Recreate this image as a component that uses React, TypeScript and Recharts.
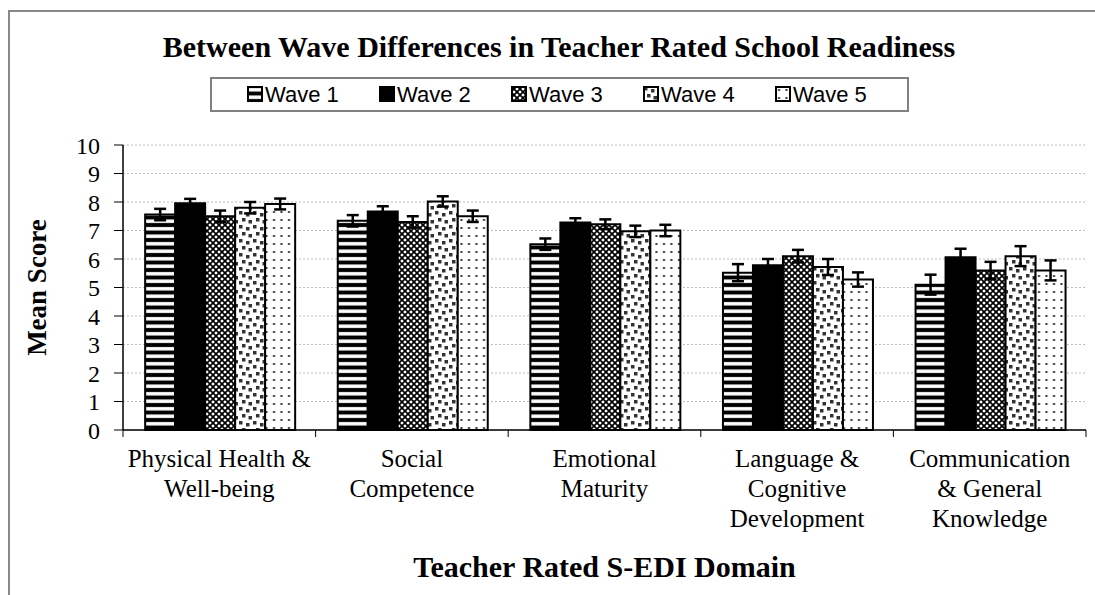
import { BarChart, Bar, XAxis, YAxis, CartesianGrid, ErrorBar, Legend, Label } from "recharts";

const domains = [
  "Physical Health &\nWell-being",
  "Social\nCompetence",
  "Emotional\nMaturity",
  "Language &\nCognitive\nDevelopment",
  "Communication\n& General\nKnowledge",
];

const wave1 = [7.56, 7.34, 6.52, 5.52, 5.1];
const wave1Err = [0.2, 0.2, 0.2, 0.3, 0.35];
const wave2 = [7.96, 7.67, 7.28, 5.78, 6.06];
const wave2Err = [0.15, 0.18, 0.15, 0.22, 0.3];
const wave3 = [7.5, 7.3, 7.22, 6.1, 5.6];
const wave3Err = [0.2, 0.2, 0.17, 0.22, 0.3];
const wave4 = [7.8, 8.02, 6.97, 5.72, 6.1];
const wave4Err = [0.2, 0.18, 0.2, 0.28, 0.35];
const wave5 = [7.93, 7.5, 7.0, 5.28, 5.6];
const wave5Err = [0.19, 0.2, 0.2, 0.25, 0.35];

const yTicks = [0, 1, 2, 3, 4, 5, 6, 7, 8, 9, 10];

const data = domains.map((d, i) => ({
  domain: d,
  w1: wave1[i], w1e: wave1Err[i],
  w2: wave2[i], w2e: wave2Err[i],
  w3: wave3[i], w3e: wave3Err[i],
  w4: wave4[i], w4e: wave4Err[i],
  w5: wave5[i], w5e: wave5Err[i],
}));

const series = [
  { key: "w1", err: "w1e", name: "Wave 1", fill: "url(#pWave1)" },
  { key: "w2", err: "w2e", name: "Wave 2", fill: "#000" },
  { key: "w3", err: "w3e", name: "Wave 3", fill: "url(#pWave3)" },
  { key: "w4", err: "w4e", name: "Wave 4", fill: "url(#pWave4)" },
  { key: "w5", err: "w5e", name: "Wave 5", fill: "url(#pWave5)" },
];

const serif = "'Liberation Serif', 'Times New Roman', serif";
const sans = "'Liberation Sans', Arial, sans-serif";

// category labels, plus the boundary tick marks Excel draws between groups
const CategoryTick = (props: any) => {
  const { x, y, payload } = props;
  const lines = String(payload.value).split("\n");
  const half = payload.offset ?? 96;
  return (
    <g>
      <line x1={x - half} y1={y} x2={x - half} y2={y + 7} stroke="#000" />
      {payload.index === domains.length - 1 && (
        <line x1={x + half} y1={y} x2={x + half} y2={y + 7} stroke="#000" />
      )}
      <text x={x} y={y} textAnchor="middle" fontFamily={serif} fontSize={25} fill="#000">
        {lines.map((l, i) => (
          <tspan key={i} x={x} dy={i === 0 ? 37 : 30}>{l}</tspan>
        ))}
      </text>
    </g>
  );
};

const renderLegend = () => (
  <div
    style={{
      border: "2px solid #808080",
      boxSizing: "border-box",
      height: 35,
      display: "flex",
      alignItems: "center",
      paddingLeft: 35,
      fontFamily: sans,
      fontSize: 22,
      color: "#000",
    }}
  >
    {series.map((s) => (
      <div key={s.key} style={{ display: "flex", alignItems: "center", width: 133 }}>
        <svg width={17} height={17}>
          <rect x={1} y={1} width={14} height={14} fill={s.fill} stroke="#000" strokeWidth={2} />
        </svg>
        <span style={{ marginLeft: 1 }}>{s.name}</span>
      </div>
    ))}
  </div>
);

export default function App() {
  return (
    <div style={{ position: "absolute", left: 0, top: 0, width: 1095, height: 595, background: "#fff" }}>
      <div style={{ position: "absolute", left: 8, top: 10, width: 1087, height: 585, borderTop: "2px solid #888", borderLeft: "2px solid #888" }} />
      <div
        style={{
          position: "absolute",
          left: 0,
          top: 32,
          width: 1118,
          textAlign: "center",
          fontFamily: serif,
          fontWeight: "bold",
          fontSize: 30,
          lineHeight: "30px",
        }}
      >
        Between Wave Differences in Teacher Rated School Readiness
      </div>
      <BarChart
        width={1095}
        height={595}
        data={data}
        margin={{ top: 145, right: 9, bottom: 0, left: 0 }}
        barCategoryGap="11.5%"
        barGap={0}
      >
        <defs>
          <pattern id="pWave1" patternUnits="userSpaceOnUse" width={8} height={7.5}>
            <rect width={8} height={7.5} fill="#000" />
            <rect y={2} width={8} height={3.5} fill="#fff" />
          </pattern>
          <pattern id="pWave3" patternUnits="userSpaceOnUse" width={6} height={6}>
            <rect width={6} height={6} fill="#fff" />
            <path d="M0,0 L6,6 M6,0 L0,6" stroke="#000" strokeWidth={1.7} />
          </pattern>
          <pattern id="pWave4" patternUnits="userSpaceOnUse" width={14} height={14}>
            <rect width={14} height={14} fill="#fff" />
            <rect x={1} y={1} width={3.5} height={3.5} fill="#333" />
            <rect x={8} y={3} width={3.5} height={3.5} fill="#333" />
            <rect x={4} y={8} width={3.5} height={3.5} fill="#333" />
            <rect x={10.5} y={10} width={3.5} height={3.5} fill="#333" />
          </pattern>
          <pattern id="pWave5" patternUnits="userSpaceOnUse" width={7.5} height={8}>
            <rect width={7.5} height={8} fill="#fff" />
            <rect x={3} y={3} width={2} height={2} fill="#333" />
          </pattern>
        </defs>
        <CartesianGrid vertical={false} stroke="#bdbdbd" strokeDasharray="2 2" />
        <XAxis
          dataKey="domain"
          height={165}
          interval={0}
          axisLine={{ stroke: "#000", strokeWidth: 1.5 }}
          tickLine={false}
          tickSize={0}
          tickMargin={0}
          tick={<CategoryTick />}
        >
          <Label
            value="Teacher Rated S-EDI Domain"
            position="insideBottom"
            offset={18}
            style={{ fontFamily: serif, fontWeight: "bold", fontSize: 30, fill: "#000" }}
          />
        </XAxis>
        <YAxis
          domain={[0, 10]}
          ticks={yTicks}
          interval={0}
          width={123}
          tickSize={9}
          tickMargin={14}
          axisLine={{ stroke: "#000", strokeWidth: 1.5 }}
          tickLine={{ stroke: "#000" }}
          tick={{ fontFamily: serif, fontSize: 24, fill: "#000" }}
        >
          <Label
            content={(p: any) => {
              const vb = p.viewBox;
              const cx = vb.x + 37;
              const cy = vb.y + vb.height / 2;
              return (
                <text
                  x={cx}
                  y={cy}
                  transform={`rotate(-90 ${cx} ${cy})`}
                  textAnchor="middle"
                  dominantBaseline="central"
                  fontFamily={serif}
                  fontWeight="bold"
                  fontSize={27}
                  fill="#000"
                >
                  Mean Score
                </text>
              );
            }}
          />
        </YAxis>
        <Legend
          verticalAlign="middle"
          content={renderLegend}
          wrapperStyle={{ top: 77, left: 210, width: 699, height: 35 }}
        />
        {series.map((s) => (
          <Bar key={s.key} dataKey={s.key} name={s.name} fill={s.fill} stroke="#000" strokeWidth={2} isAnimationActive={false}>
            <ErrorBar dataKey={s.err} width={6} strokeWidth={2.5} stroke="#000" />
          </Bar>
        ))}
      </BarChart>
    </div>
  );
}
